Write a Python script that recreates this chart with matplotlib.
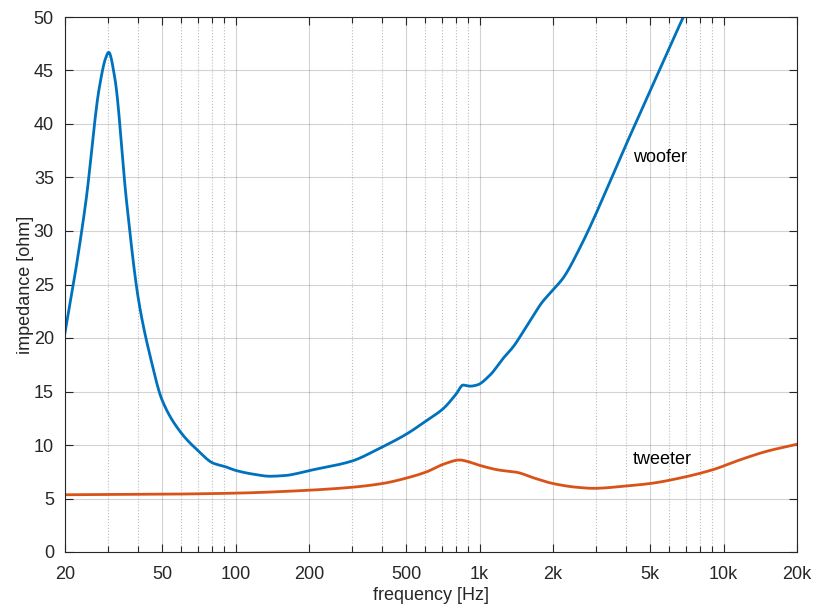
import matplotlib
matplotlib.use("Agg")
import matplotlib.pyplot as plt
import numpy as np

# Data
woofer_f = [20, 22, 24.4, 27.6, 29.4, 30.2, 32, 35.7, 40, 45, 50, 60, 70, 81, 90, 101,
            120, 138, 160, 184, 200, 300, 390, 500, 608, 710, 804, 856, 914, 975, 1100,
            1250, 1376, 1540, 1800, 2000, 2200, 2574, 3990, 5000, 6840, 7200]
woofer_z = [20.5, 26.0, 32.9, 43.3, 46.2, 46.7, 44.3, 32.9, 23.6, 18.0, 14.2, 11.1, 9.5,
            8.3, 8.0, 7.6, 7.25, 7.08, 7.15, 7.4, 7.6, 8.5, 9.7, 11.0, 12.3, 13.4, 14.8,
            15.6, 15.5, 15.6, 16.5, 18.1, 19.2, 20.9, 23.3, 24.5, 25.6, 28.4, 38.1,
            43.1, 50.0, 51.1]

tweeter_f = [20, 50, 100, 184, 300, 400, 500, 608, 710, 830, 880, 1000, 1200, 1420, 1680,
             2000, 2500, 2930, 3990, 5000, 6840, 9060, 11640, 14960, 20000]
tweeter_z = [5.35, 5.4, 5.5, 5.73, 6.05, 6.4, 6.9, 7.5, 8.2, 8.6, 8.5, 8.1, 7.66, 7.45,
             6.9, 6.4, 6.05, 5.95, 6.17, 6.4, 6.98, 7.7, 8.6, 9.4, 10.07]

major_ticks = [20, 50, 100, 200, 500, 1000, 2000, 5000, 10000, 20000]
major_labels = ['20', '50', '100', '200', '500', '1k', '2k', '5k', '10k', '20k']
y_ticks = list(range(0, 51, 5))

plt.rcParams['font.family'] = ['Liberation Sans', 'DejaVu Sans']

fig = plt.figure(figsize=(8.14, 6.08), dpi=100)
ax = fig.add_axes([65/814, 56/608, 732/814, 535/608])


# monotone cubic (Fritsch-Carlson) through the read points, in log frequency
def smooth(fs, zs):
    x = np.log10(fs)
    y = np.array(zs, dtype=float)
    h = np.diff(x)
    d = np.diff(y) / h
    m = np.zeros_like(y)
    m[0] = d[0]
    m[-1] = d[-1]
    for k in range(1, len(y) - 1):
        if d[k - 1] * d[k] <= 0:
            m[k] = 0
        else:
            w1 = 2 * h[k] + h[k - 1]
            w2 = h[k] + 2 * h[k - 1]
            m[k] = (w1 + w2) / (w1 / d[k - 1] + w2 / d[k])
    xs = np.linspace(x[0], x[-1], 1200)
    i = np.clip(np.searchsorted(x, xs) - 1, 0, len(x) - 2)
    t = (xs - x[i]) / h[i]
    h00 = 2*t**3 - 3*t**2 + 1
    h10 = t**3 - 2*t**2 + t
    h01 = -2*t**3 + 3*t**2
    h11 = t**3 - t**2
    ys = h00*y[i] + h10*h[i]*m[i] + h01*y[i+1] + h11*h[i]*m[i+1]
    return 10**xs, ys


wf, wz = smooth(woofer_f, woofer_z)
tf, tz = smooth(tweeter_f, tweeter_z)
ax.plot(wf, wz, color='#0072BD', lw=2)
ax.plot(tf, tz, color='#D95319', lw=2)

ax.set_xscale('log')
ax.set_xlim(20, 20000)
ax.set_ylim(0, 50)
ax.set_xticks(major_ticks)
ax.set_xticklabels(major_labels)
minor = [m * d for d in [10, 100, 1000, 10000] for m in range(1, 10)
         if 20 < m * d < 20000 and m * d not in major_ticks]
ax.set_xticks(minor, minor=True)
ax.xaxis.set_minor_formatter(matplotlib.ticker.NullFormatter())
ax.set_yticks(y_ticks)

ax.grid(True, which='major', color='#262626', alpha=0.2, lw=0.8, ls='-')
ax.grid(True, which='minor', axis='x', color='#262626', alpha=0.3, lw=0.8, ls=':')
ax.tick_params(which='both', direction='in', top=True, right=True, colors='#262626',
               labelsize=13, width=0.8)
ax.tick_params(which='major', length=6)
ax.tick_params(which='minor', length=4)
ax.tick_params(axis='x', which='major', pad=10)
ax.tick_params(axis='y', which='major', pad=8)
for s in ax.spines.values():
    s.set_color('#262626')
    s.set_linewidth(0.8)

ax.set_xlabel('frequency [Hz]', fontsize=13, color='#262626', labelpad=3)
ax.set_ylabel('impedance [ohm]', fontsize=13, color='#262626', labelpad=0)

ax.text(4250, 36.9, 'woofer', fontsize=13, va='center', ha='left')
ax.text(4250, 8.6, 'tweeter', fontsize=13, va='center', ha='left')

fig.savefig('out.png', dpi=100)
